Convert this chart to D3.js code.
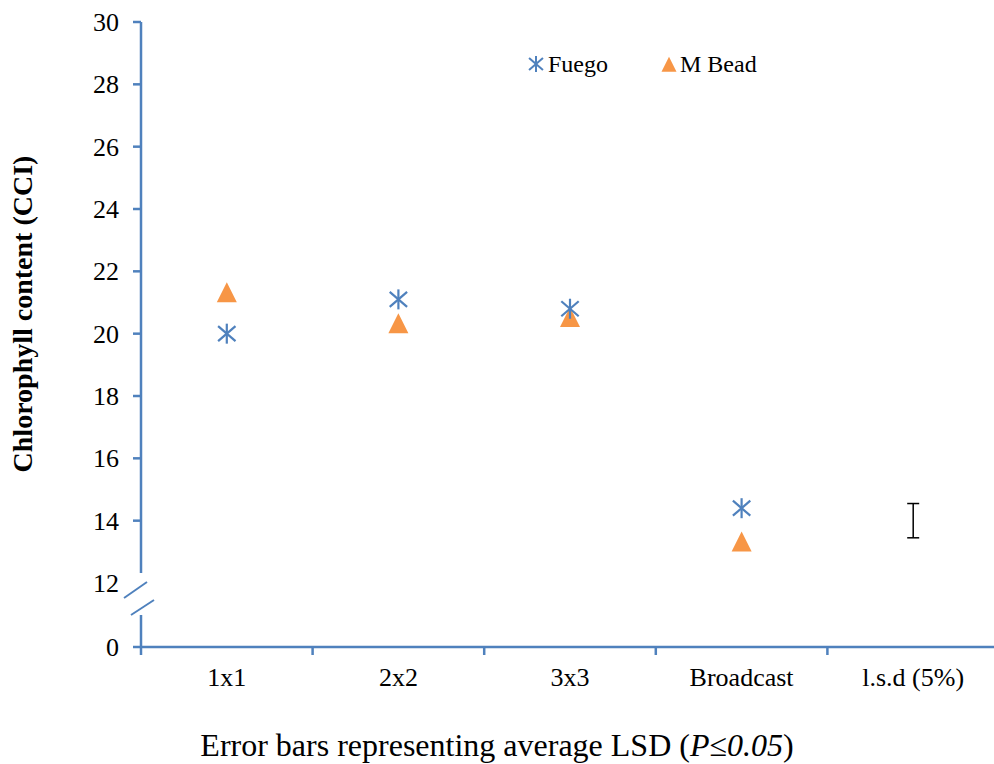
<!DOCTYPE html>
<html><head><meta charset="utf-8">
<script src="https://cdn.jsdelivr.net/npm/d3@7"></script>
<style>body{margin:0;background:#fff}svg{display:block}text{font-family:"Liberation Serif","Times New Roman",serif}</style>
</head><body><svg id="c" width="994" height="764"></svg>
<script>
const categories = ["1x1","2x2","3x3","Broadcast","l.s.d (5%)"];
const fuego = [20.0, 21.1, 20.8, 14.4];
const mBead = [21.3, 20.3, 20.5, 13.3];
const lsdCenter = 14.0;
const lsdValue = 1.1;
const yTicks = [0,12,14,16,18,20,22,24,26,28,30];

const svg = d3.select("#c");
const blue = "#4F81BD", orange = "#F79646", axisCol = "#4F81BD";
const x0 = 141, x1 = 999, yBot = 647, yTop = 22;
const FF = "Liberation Serif, Times New Roman, serif";

const x = d3.scaleBand().domain(categories).range([x0, x1]).padding(0);
const y = d3.scaleLinear().domain([0, 12, 30]).range([yBot, 583, yTop]);

// y axis line with break
svg.append("line").attr("x1",x0).attr("x2",x0).attr("y1",yTop).attr("y2",573).attr("stroke",axisCol).attr("stroke-width",2.5);
svg.append("line").attr("x1",x0).attr("x2",x0).attr("y1",615).attr("y2",yBot).attr("stroke",axisCol).attr("stroke-width",2.5);
svg.append("line").attr("x1",124).attr("y1",598).attr("x2",147).attr("y2",582).attr("stroke",axisCol).attr("stroke-width",2);
svg.append("line").attr("x1",131).attr("y1",615).attr("x2",154).attr("y2",600).attr("stroke",axisCol).attr("stroke-width",2);

// y ticks
yTicks.forEach(v => {
  if (v !== 12) svg.append("line").attr("x1",133).attr("x2",x0).attr("y1",y(v)).attr("y2",y(v)).attr("stroke",axisCol).attr("stroke-width",2.5);
  svg.append("text").attr("x",119).attr("y",y(v)+9).attr("text-anchor","end").attr("font-family",FF)
    .attr("font-size",26).attr("fill","#000").text(v);
});

// x axis
svg.append("line").attr("x1",x0-1).attr("x2",x1).attr("y1",yBot).attr("y2",yBot).attr("stroke",axisCol).attr("stroke-width",2.5);
categories.forEach((c,i) => {
  svg.append("line").attr("x1",x(c)).attr("x2",x(c)).attr("y1",yBot).attr("y2",yBot+8).attr("stroke",axisCol).attr("stroke-width",2.5);
  svg.append("text").attr("x",x(c)+x.bandwidth()/2).attr("y",686).attr("text-anchor","middle").attr("font-family",FF)
    .attr("font-size",26).attr("fill","#000").text(c);
});

function asterisk(g, cx, cy, r, w) {
  const p = g.append("g").attr("stroke",blue).attr("stroke-width",w||2.2);
  p.append("line").attr("x1",cx).attr("x2",cx).attr("y1",cy-r).attr("y2",cy+r);
  p.append("line").attr("x1",cx-r*0.87).attr("x2",cx+r*0.87).attr("y1",cy-r*0.75).attr("y2",cy+r*0.75);
  p.append("line").attr("x1",cx-r*0.87).attr("x2",cx+r*0.87).attr("y1",cy+r*0.75).attr("y2",cy-r*0.75);
}
function triangle(g, cx, cy, s) {
  g.append("path").attr("d",`M${cx},${cy-s*0.55}L${cx+s*0.5},${cy+s*0.45}L${cx-s*0.5},${cy+s*0.45}Z`).attr("fill",orange);
}

const cx = c => x(c) + x.bandwidth()/2;
mBead.forEach((v,i) => triangle(svg, cx(categories[i]), y(v), 20));
fuego.forEach((v,i) => asterisk(svg, cx(categories[i]), y(v), 10));

// LSD error bar
const ex = cx(categories[4]);
const eb = svg.append("g").attr("stroke","#000").attr("stroke-width",1.5);
eb.append("line").attr("x1",ex).attr("x2",ex).attr("y1",y(lsdCenter+lsdValue/2)).attr("y2",y(lsdCenter-lsdValue/2));
eb.append("line").attr("x1",ex-6).attr("x2",ex+6).attr("y1",y(lsdCenter+lsdValue/2)).attr("y2",y(lsdCenter+lsdValue/2));
eb.append("line").attr("x1",ex-6).attr("x2",ex+6).attr("y1",y(lsdCenter-lsdValue/2)).attr("y2",y(lsdCenter-lsdValue/2));

// legend
asterisk(svg, 536, 64, 8, 2);
svg.append("text").attr("x",548).attr("y",72).attr("font-family",FF).attr("font-size",24).text("Fuego");
triangle(svg, 669, 65, 15);
svg.append("text").attr("x",680).attr("y",72).attr("font-family",FF).attr("font-size",24).text("M Bead");

// y title
svg.append("text").attr("transform","translate(32,314) rotate(-90)").attr("text-anchor","middle").attr("font-family",FF)
  .attr("font-size",28).attr("font-weight","bold").text("Chlorophyll content (CCI)");

// x title
const xt = svg.append("text").attr("x",497).attr("y",756).attr("text-anchor","middle").attr("font-family",FF).attr("font-size",32);
xt.append("tspan").text("Error bars representing average LSD (");
xt.append("tspan").attr("font-style","italic").text("P≤0.05");
xt.append("tspan").text(")");
</script></body></html>
